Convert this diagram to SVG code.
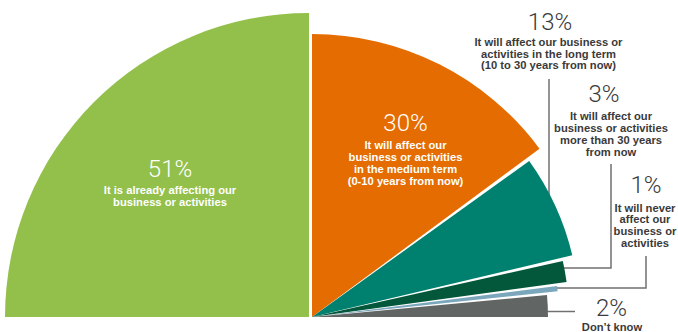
<svg xmlns="http://www.w3.org/2000/svg" width="678" height="332" viewBox="0 0 678 332">
<style>
.pct{font-family:Roboto,"Liberation Sans",sans-serif;font-weight:300;font-size:24px;text-anchor:middle}
.lbl{font-family:"Liberation Sans",Arial,sans-serif;font-weight:bold;font-size:11.2px;text-anchor:middle}
.in{fill:#ffffff}
.out{fill:#3a3a3a}
.lead{fill:none;stroke:#707070;stroke-width:1.5}
</style>
<rect width="678" height="332" fill="#ffffff"/>
<g id="connectors">
<path class="lead" d="M549,79 V200"/>
<path class="lead" d="M611,164 V268 H560"/>
<path class="lead" d="M646,256 V288 H552"/>
<path class="lead" d="M545,311.5 H575"/>
</g>
<g id="slice-51">
<path d="M309,317 L309,13 A304,304 0 0 0 5,317 Z" fill="#93c04b"/>
<text class="pct in" x="170" y="177">51%</text>
<text class="lbl in" x="170" y="194">It is already affecting our</text>
<text class="lbl in" x="170" y="206">business or activities</text>
</g>
<g id="slice-30">
<path d="M312,317 L312,34 A283,283 0 0 1 539.5,148.7 Z" fill="#e46c00"/>
<text class="pct in" x="405.5" y="131">30%</text>
<text class="lbl in" x="405.5" y="148.5">It will affect our</text>
<text class="lbl in" x="405.5" y="160.5">business or activities</text>
<text class="lbl in" x="405.5" y="172.5">in the medium term</text>
<text class="lbl in" x="405.5" y="184.5">(0-10 years from now)</text>
</g>
<g id="slice-13">
<path d="M312,317 L529.2,160.9 A267.5,267.5 0 0 1 572.3,255.2 Z" fill="#00806e"/>
<text class="pct out" x="550" y="30">13%</text>
<text class="lbl out" x="548.5" y="46">It will affect our business or</text>
<text class="lbl out" x="548.5" y="57.7">activities in the long term</text>
<text class="lbl out" x="548.5" y="69.4">(10 to 30 years from now)</text>
</g>
<g id="slice-3">
<path d="M312,317 L562.8,260.9 A257,257 0 0 1 566.6,281.9 Z" fill="#03573b"/>
<text class="pct out" x="604" y="102">3%</text>
<text class="lbl out" x="611" y="120">It will affect our</text>
<text class="lbl out" x="611" y="132">business or activities</text>
<text class="lbl out" x="611" y="143.7">more than 30 years</text>
<text class="lbl out" x="611" y="155.5">from now</text>
</g>
<g id="slice-1">
<path d="M312,317 L557.05,286.04 A247,247 0 0 1 557.65,291.18 Z" fill="#7ba7bc"/>
<text class="pct out" x="646" y="192.5">1%</text>
<text class="lbl out" x="645" y="211.5">It will never</text>
<text class="lbl out" x="645" y="223">affect our</text>
<text class="lbl out" x="645" y="234.8">business or</text>
<text class="lbl out" x="645" y="246.5">activities</text>
</g>
<g id="slice-2">
<path d="M312,317 L546.97,295 A236,236 0 0 1 548,317 Z" fill="#616664"/>
<text class="pct out" x="611.5" y="315.5">2%</text>
<text class="lbl out" x="612" y="331">Don’t know</text>
</g>
</svg>
